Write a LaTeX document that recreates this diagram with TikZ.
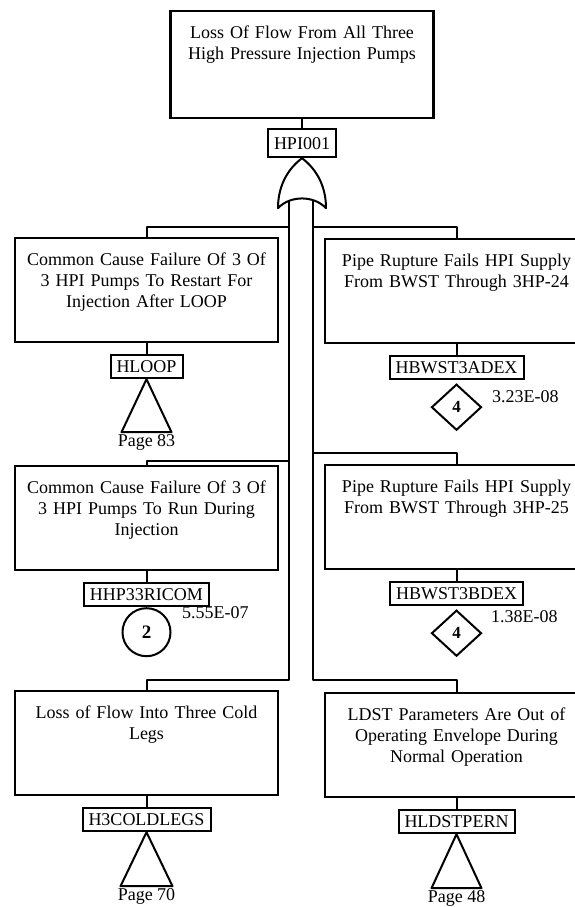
\documentclass[tikz,border=0pt]{standalone}
\usepackage{fontspec}
\setmainfont{Liberation Serif}
\usetikzlibrary{positioning,calc,shapes.geometric}
\newcommand\ftfont{\fontsize{18}{21}\selectfont}
\tikzset{
  event/.style={draw, line width=2.2pt, rectangle, anchor=north, minimum width=263pt,
    text width=250pt, align=center, inner xsep=6.5pt, inner ysep=0pt,
    text height=27pt, text depth=77pt, font=\ftfont},
  tag/.style={draw, line width=2pt, rectangle, inner xsep=6pt, inner ysep=0pt,
    text height=17pt, text depth=6pt, font=\ftfont},
  basic/.style={draw, line width=2pt, circle, minimum size=48pt, inner sep=0pt,
    font=\fontsize{19}{19}\selectfont\bfseries},
  undev/.style={draw, line width=2pt, diamond, minimum width=50pt, minimum height=46pt,
    inner sep=0pt, font=\fontsize{17}{17}\selectfont\bfseries},
  prob/.style={anchor=west, inner sep=0pt, font=\ftfont},
  page/.style={anchor=north, inner sep=1pt, font=\ftfont},
  wire/.style={line width=2pt, line join=round},
}

\begin{document}
\begin{tikzpicture}[x=1pt, y=-1pt, node distance=11pt]
  \useasboundingbox (0,0) rectangle (575,907);
  \clip (0,0) rectangle (575,907);

  % верхнее событие и вентиль ИЛИ
  \node[event, text depth=80pt] (top) at (302,10) {Loss Of Flow From All Three\\High Pressure Injection Pumps};
  \node[tag, below=9pt of top, text height=20pt, text depth=8pt] (hpi) {HPI001};
  \draw[wire] (hpi.south) .. controls +(-12,9) and +(0,-25) .. ++(-24,50) coordinate (gl)
    .. controls +(12,-13) and +(-12,-13) .. ++(48,0) coordinate (gr)
    .. controls +(0,-25) and +(12,9) .. (hpi.south);
  \coordinate (busL) at ($(gl)+(11,-7.5)$); % левая шина
  \coordinate (busR) at ($(gr)+(-13,-7.5)$); % правая шина

  % левая колонка
  \node[event] (e1) at (146.5,237) {Common Cause Failure Of 3 Of\\3 HPI Pumps To Restart For\\Injection After LOOP};
  \node[tag, below=of e1] (hloop) {HLOOP};
  \draw[wire] (hloop.south) -- ++(-25,53) -- ++(50,0) -- cycle;
  \node[page] (pg83) at ($(hloop.south)+(0,54)$) {Page 83};

  \node[event] (e2) at (146.5,465) {Common Cause Failure Of 3 Of\\3 HPI Pumps To Run During\\Injection};
  \node[tag, below=of e2] (hhp) {HHP33RICOM};
  \node[basic, below=0pt of hhp] (c2) {2};
  \node[prob] (p2) at (182,613) {5.55E-07};

  \node[event] (e3) at (146.5,690) {Loss of Flow Into Three Cold\\Legs};
  \node[tag, below=of e3] (hcold) {H3COLDLEGS};
  \draw[wire] (hcold.south) -- ++(-26,54) -- ++(52,0) -- cycle;
  \node[page] (pg70) at ($(hcold.south)+(0,55)$) {Page 70};

  % правая колонка
  \node[event] (r1) at (456.5,238) {Pipe Rupture Fails HPI Supply\\From BWST Through 3HP-24};
  \node[tag, below=of r1] (hba) {HBWST3ADEX};
  \node[undev, below=3pt of hba] (d1) {4};
  \node[prob] (p4a) at (492,397) {3.23E-08};

  \node[event] (r2) at (456.5,464) {Pipe Rupture Fails HPI Supply\\From BWST Through 3HP-25};
  \node[tag, below=of r2] (hbb) {HBWST3BDEX};
  \node[undev, below=3pt of hbb] (d2) {4};
  \node[prob] (p4b) at (491,617) {1.38E-08};

  \node[event] (r3) at (456.5,692) {LDST Parameters Are Out of\\Operating Envelope During\\Normal Operation};
  \node[tag, below=of r3] (hldst) {HLDSTPERN};
  \draw[wire] (hldst.south) -- ++(-25,54) -- ++(50,0) -- cycle;
  \node[page] (pg48) at ($(hldst.south)+(0,55)$) {Page 48};

  % связи
  \draw[wire] (top.south) -- (hpi.north);
  \draw[wire] (e1.north) -- ++(0,-10) -| (busL);
  \draw[wire] (e2.north) -- ++(0,-4) -| (busL);
  \draw[wire] (e3.north) -- ++(0,-10) -| (busL);
  \draw[wire] (r1.north) -- ++(0,-11) -| (busR);
  \draw[wire] (r2.north) -- ++(0,-11) -| (busR);
  \draw[wire] (r3.north) -- ++(0,-12) -| (busR);
  \draw[wire] (e1.south) -- (hloop.north);
  \draw[wire] (e2.south) -- (hhp.north);
  \draw[wire] (e3.south) -- (hcold.north);
  \draw[wire] (r1.south) -- (hba.north);
  \draw[wire] (r2.south) -- (hbb.north);
  \draw[wire] (r3.south) -- (hldst.north);
\end{tikzpicture}
\end{document}
